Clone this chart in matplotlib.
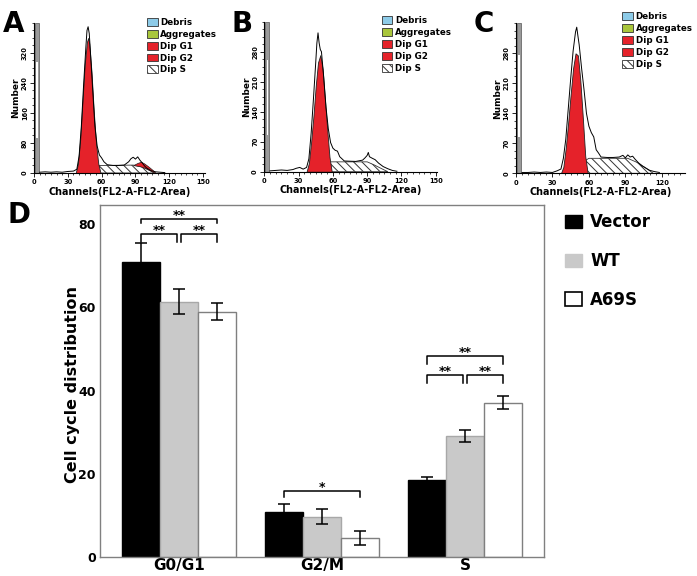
import numpy as np
import matplotlib.pyplot as plt
from matplotlib.patches import Patch
from matplotlib.ticker import MultipleLocator

plt.rcParams['font.family'] = 'DejaVu Sans'
plt.rcParams['font.weight'] = 'bold'
plt.rcParams['axes.labelweight'] = 'bold'
plt.rcParams['hatch.linewidth'] = 0.7

RED = '#E5222A'
HATCH = '\\\\\\\\'

# ---- panel A: histogram (channel, count) ----
a_ch = [5, 10, 15, 20, 25, 30, 35, 38, 40, 42, 44, 46, 47, 48, 49, 50, 52, 54, 56, 58,
        60, 62, 65, 70, 75, 80, 84, 86, 88, 90, 92, 94, 96, 98, 100, 104, 108, 112, 116]
a_raw = [2, 3, 2, 3, 2, 4, 5, 10, 45, 125, 235, 335, 380, 390, 372, 325, 225, 125, 72, 48,
         40, 30, 22, 20, 20, 21, 30, 38, 42, 37, 43, 34, 27, 19, 13, 6, 3, 2, 1]
a_g1_ch = [37, 39, 41, 43, 45, 47, 48, 49, 51, 53, 55, 57, 59]
a_g1 = [0, 25, 90, 190, 290, 350, 360, 345, 270, 165, 80, 25, 0]
a_s_ch = [44, 50, 55, 58, 88, 95, 100, 104, 107]
a_s = [0, 8, 17, 20, 21, 17, 11, 5, 0]
a_g2_ch = [88, 92, 95, 98, 102, 106, 108]
a_g2_lo = [21, 19, 17, 14, 8, 2, 0]
a_g2_hi = [21, 27, 30, 25, 16, 6, 0]
a_xticks = [0, 30, 60, 90, 120, 150]
a_yticks = [0, 80, 160, 240, 320]

# ---- panel B ----
b_ch = [5, 10, 15, 20, 25, 28, 31, 34, 37, 39, 41, 43, 45, 46, 47, 48, 49, 50, 52, 54,
        56, 58, 60, 62, 64, 66, 68, 70, 80, 86, 88, 90, 91, 92, 94, 97, 100, 104, 108, 112, 116]
b_raw = [2, 3, 4, 3, 5, 8, 10, 6, 10, 30, 90, 170, 255, 300, 324, 300, 285, 280, 220, 150,
         100, 68, 55, 50, 48, 35, 30, 25, 24, 27, 32, 38, 45, 35, 32, 28, 20, 12, 7, 3, 1]
b_g1_ch = [37, 39, 41, 43, 45, 47, 49, 51, 53, 55, 57, 59]
b_g1 = [0, 20, 70, 130, 200, 255, 272, 240, 170, 100, 35, 0]
b_s_ch = [40, 46, 52, 58, 90, 96, 102, 108]
b_s = [0, 6, 15, 23, 23, 16, 8, 0]
b_xticks = [0, 30, 60, 90, 120, 150]
b_yticks = [0, 70, 140, 210, 280]

# ---- panel C ----
c_ch = [5, 10, 15, 20, 25, 30, 34, 37, 39, 41, 43, 45, 47, 49, 50, 51, 52, 54, 56, 58,
        60, 62, 64, 66, 68, 70, 75, 80, 85, 88, 90, 92, 94, 96, 98, 101, 104, 107, 110, 114, 118]
c_raw = [2, 2, 3, 2, 3, 2, 6, 10, 35, 80, 150, 220, 285, 330, 341, 320, 300, 245, 195, 140,
         110, 95, 85, 55, 47, 38, 37, 37, 38, 42, 36, 43, 38, 40, 33, 24, 17, 12, 7, 4, 2]
c_g1_ch = [37, 39, 41, 43, 45, 47, 49, 51, 53, 55, 57, 59]
c_g1 = [0, 15, 60, 120, 185, 245, 280, 275, 215, 130, 40, 0]
c_s_ch = [38, 44, 50, 56, 60, 92, 100, 106, 113]
c_s = [0, 5, 14, 28, 35, 35, 25, 14, 0]
c_xticks = [0, 30, 60, 90, 120]
c_yticks = [0, 70, 140, 210, 280]

# debris gate marker near channel 0 and its open (white) part per panel
gate_ch = [0.5, 4.0]
gate_open = {'A': (92, 297), 'B': (85, 260), 'C': (85, 276)}

legend_labels = ['Debris', 'Aggregates', 'Dip G1', 'Dip G2', 'Dip S']
legend_colors = ['#8DCBE8', '#A9C63B', RED, RED, 'white']

# ---- panel D: cell cycle distribution ----
groups = ['G0/G1', 'G2/M', 'S']
series = ['Vector', 'WT', 'A69S']
vector = [71.0, 10.7, 18.5]
wt = [61.4, 9.7, 29.1]
a69s = [59.0, 4.5, 37.1]
vector_err = [4.4, 2.1, 0.8]
wt_err = [3.0, 1.8, 1.4]
a69s_err = [2.1, 1.7, 1.6]
# (group, left bar, right bar, height, drop, label)
brackets = [(0, 0, 2, 81.2, 1.0, '**'), (0, 0, 1, 77.6, 1.8, '**'), (0, 1, 2, 77.6, 1.8, '**'),
            (1, 0, 2, 15.9, 1.4, '*'),
            (2, 0, 2, 48.3, 2.0, '**'), (2, 0, 1, 43.7, 1.8, '**'), (2, 1, 2, 43.7, 1.8, '**')]

fig = plt.figure(figsize=(6.97, 5.76), dpi=100)


def hist_panel(rect, key, ch, raw, g1_ch, g1, s_ch, s, ymax, xmax, xticks, yticks, leg_xy, g2=None):
    ax = fig.add_axes(rect)
    ax.fill_between(s_ch, s, facecolor='white', edgecolor='#333333', hatch=HATCH, lw=0.6)
    if g2 is not None:
        ax.fill_between(g2[0], g2[1], g2[2], facecolor=RED, edgecolor='#222222', lw=0.5)
    ax.fill_between(g1_ch, g1, facecolor=RED, edgecolor='#222222', lw=0.6)
    ax.plot(ch, raw, color='black', lw=0.7)
    # gate marker
    ax.bar(np.mean(gate_ch), ymax, width=gate_ch[1] - gate_ch[0], color='#9A9A9A',
           edgecolor='#555555', lw=0.5)
    lo, hi = gate_open[key]
    ax.bar(np.mean(gate_ch) + 0.5, hi - lo, bottom=lo, width=1.4, color='white', lw=0)
    ax.set_xlim(0, xmax)
    ax.set_ylim(0, ymax)
    ax.spines[['top', 'right']].set_visible(False)
    ax.spines[['left', 'bottom']].set_linewidth(0.8)
    ax.set_xticks(xticks)
    ax.set_yticks(yticks)
    ax.xaxis.set_minor_locator(MultipleLocator(5))
    ax.yaxis.set_minor_locator(MultipleLocator(yticks[1] / 4))
    ax.tick_params(which='major', length=3, width=0.6, labelsize=4.8, pad=1.5)
    ax.tick_params(which='minor', length=1.5, width=0.5)
    for t in ax.get_yticklabels():
        t.set_rotation(90)
        t.set_va('center')
    ax.set_xlabel('Channels(FL2-A-FL2-Area)', fontsize=6.9, labelpad=1)
    ax.set_ylabel('Number', fontsize=6.5, labelpad=1)
    handles = [Patch(facecolor=c, edgecolor='#333333', lw=0.6,
                     hatch=HATCH if lab == 'Dip S' else None)
               for c, lab in zip(legend_colors, legend_labels)]
    ax.legend(handles, legend_labels, loc='upper left', bbox_to_anchor=leg_xy,
              bbox_transform=fig.transFigure, frameon=False, fontsize=6.3,
              handlelength=1.2, handleheight=1.0, handletextpad=0.3,
              labelspacing=0.33, borderpad=0, borderaxespad=0)
    return ax


hist_panel([0.0488, 0.6997, 0.2458, 0.2604], 'A', a_ch, a_raw, a_g1_ch, a_g1, a_s_ch, a_s,
           400, 152, a_xticks, a_yticks, (0.211, 0.969), g2=(a_g2_ch, a_g2_lo, a_g2_hi))
hist_panel([0.3792, 0.7019, 0.2476, 0.2604], 'B', b_ch, b_raw, b_g1_ch, b_g1, b_s_ch, b_s,
           350, 151, b_xticks, b_yticks, (0.548, 0.972))
hist_panel([0.7403, 0.6991, 0.2423, 0.2604], 'C', c_ch, c_raw, c_g1_ch, c_g1, c_s_ch, c_s,
           350, 139, c_xticks, c_yticks, (0.893, 0.979))

# ---- bar chart ----
ax = fig.add_axes([0.1435, 0.033, 0.637, 0.611])
x = np.arange(len(groups))
w = 0.266
styles = [dict(color='black', edgecolor='black'),
          dict(color='#C9C9C9', edgecolor='#A8A8A8'),
          dict(color='white', edgecolor='#7F7F7F')]
for k, (vals, errs) in enumerate([(vector, vector_err), (wt, wt_err), (a69s, a69s_err)]):
    ax.bar(x + (k - 1) * w, vals, w, lw=1, label=series[k], **styles[k])
    ax.errorbar(x + (k - 1) * w, vals, yerr=errs, fmt='none', ecolor='black',
                elinewidth=1.1, capsize=4, capthick=1.1)

for g, i, j, y, d, lab in brackets:
    x0 = g + (i - 1) * w + (0.012 if i == 1 else 0)
    x1 = g + (j - 1) * w - (0.012 if j == 1 else 0)
    ax.plot([x0, x0, x1, x1], [y - d, y, y, y - d], color='black', lw=1.1)
    ax.text((x0 + x1) / 2, y + 0.9, lab, ha='center', va='center', fontsize=9)

ax.set_xlim(-0.552, 2.552)
ax.set_ylim(0, 84.6)
ax.set_xticks(x, groups, fontsize=11)
ax.set_yticks([0, 20, 40, 60, 80])
ax.tick_params(axis='y', length=0, labelsize=9, pad=3)
ax.tick_params(axis='x', length=0, pad=1)
for sp in ax.spines.values():
    sp.set_color('#808080')
    sp.set_linewidth(1)
ax.set_ylabel('Cell cycle distribution', fontsize=11.5)
ax.yaxis.set_label_coords(-0.045, 0.49)

leg_handles = [Patch(facecolor='black', edgecolor='black'),
               Patch(facecolor='#C9C9C9', edgecolor='#C9C9C9'),
               Patch(facecolor='white', edgecolor='black', lw=1.2)]
fig.legend(leg_handles, series, loc='upper left', bbox_to_anchor=(0.810, 0.630),
           frameon=False, fontsize=12, handlelength=1.05, handleheight=0.85,
           handletextpad=0.5, labelspacing=1.25, borderpad=0, borderaxespad=0)

for lab, xx, yy in [('A', 3, 32), ('B', 232, 32), ('C', 474, 32), ('D', 7, 223)]:
    fig.text(xx / 697, 1 - yy / 576, lab, fontsize=20, va='baseline', ha='left')

fig.savefig('out.png', dpi=100)
